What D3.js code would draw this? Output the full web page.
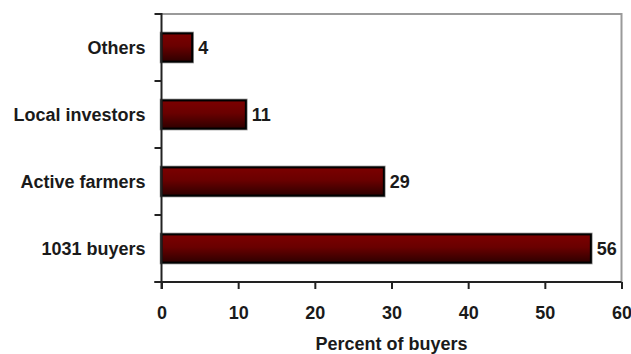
<!DOCTYPE html>
<html>
<head>
<meta charset="utf-8">
<script src="https://cdn.jsdelivr.net/npm/d3@7"></script>
<style>
  html, body { margin: 0; padding: 0; background: #fff; }
  svg { display: block; }
  text { font-family: "Liberation Sans", Arial, sans-serif; font-weight: bold; fill: #1a1a1a; }
</style>
</head>
<body>
<svg id="chart" width="631" height="354"></svg>
<script>
// Buyer groups, top to bottom as listed
const categories = ["Others", "Local investors", "Active farmers", "1031 buyers"];
const percentOfBuyers = [4, 11, 29, 56];
const xTicks = [0, 10, 20, 30, 40, 50, 60];
const xTitle = "Percent of buyers";

const svg = d3.select("#chart");
const margin = { top: 14, right: 9.5, bottom: 72, left: 161.5 };
const W = 631, H = 354;
const innerW = W - margin.left - margin.right;
const innerH = H - margin.top - margin.bottom;

const x = d3.scaleLinear().domain([0, 60]).range([0, innerW]);
const y = d3.scaleBand().domain(categories).range([0, innerH]).paddingInner(0.58).paddingOuter(0.29);
const yTicks = d3.scaleBand().domain(categories).range([0, innerH]);

const defs = svg.append("defs");
const grad = defs.append("linearGradient").attr("id", "barFill")
  .attr("x1", 0).attr("y1", 0).attr("x2", 0).attr("y2", 1);
grad.append("stop").attr("offset", "0%").attr("stop-color", "#7c0000");
grad.append("stop").attr("offset", "45%").attr("stop-color", "#6a0000");
grad.append("stop").attr("offset", "100%").attr("stop-color", "#2e0000");

const g = svg.append("g").attr("transform", `translate(${margin.left},${margin.top})`);

// Plot frame: light grey top and right edges
g.append("path")
  .attr("d", `M0,0H${innerW}V${innerH}`)
  .attr("fill", "none").attr("stroke", "#9a9a9a").attr("stroke-width", 2);

// Bars with soft grey outline halo
const bars = g.selectAll("g.bar").data(categories).join("g").attr("class", "bar");
bars.append("rect")
  .attr("x", 0)
  .attr("y", d => y(d))
  .attr("width", (d, i) => x(percentOfBuyers[i]))
  .attr("height", y.bandwidth())
  .attr("fill", "none").attr("stroke", "#8a8a8a").attr("stroke-width", 3.5);
bars.append("rect")
  .attr("x", 0)
  .attr("y", d => y(d))
  .attr("width", (d, i) => x(percentOfBuyers[i]))
  .attr("height", y.bandwidth())
  .attr("fill", "url(#barFill)").attr("stroke", "#000").attr("stroke-width", 2);

// Value labels
bars.append("text")
  .attr("x", (d, i) => x(percentOfBuyers[i]) + 6)
  .attr("y", d => y(d) + y.bandwidth() / 2)
  .attr("dy", "0.35em")
  .attr("font-size", 18)
  .text((d, i) => percentOfBuyers[i]);

// Category axis
const yAxisG = g.append("g");
yAxisG.append("line").attr("x1", 0).attr("x2", 0).attr("y1", -1).attr("y2", innerH + 7)
  .attr("stroke", "#222").attr("stroke-width", 2);
const tickYs = categories.map(c => yTicks(c)).concat([innerH]);
yAxisG.selectAll("line.tk").data(tickYs).join("line").attr("class", "tk")
  .attr("x1", -7).attr("x2", 0).attr("y1", d => d).attr("y2", d => d)
  .attr("stroke", "#222").attr("stroke-width", 2);
yAxisG.selectAll("text").data(categories).join("text")
  .attr("x", -16)
  .attr("y", d => y(d) + y.bandwidth() / 2)
  .attr("dy", "0.35em")
  .attr("text-anchor", "end")
  .attr("font-size", 18)
  .text(d => d);

// Value axis
const xAxis = d3.axisBottom(x).tickValues(xTicks).tickSize(7).tickPadding(17).tickSizeOuter(0);
const xAxisG = g.append("g").attr("transform", `translate(0,${innerH})`).call(xAxis);
xAxisG.select(".domain").attr("stroke", "#222").attr("stroke-width", 2).attr("d", `M-7,0H${innerW}`);
xAxisG.selectAll(".tick line").attr("stroke", "#222").attr("stroke-width", 2);
xAxisG.selectAll(".tick text")
  .attr("font-size", 18)
  .attr("font-family", "Liberation Sans, Arial, sans-serif")
  .attr("font-weight", "bold")
  .attr("fill", "#1a1a1a");

g.append("text")
  .attr("x", innerW / 2)
  .attr("y", innerH + 68)
  .attr("text-anchor", "middle")
  .attr("font-size", 18)
  .text(xTitle);
</script>
</body>
</html>
